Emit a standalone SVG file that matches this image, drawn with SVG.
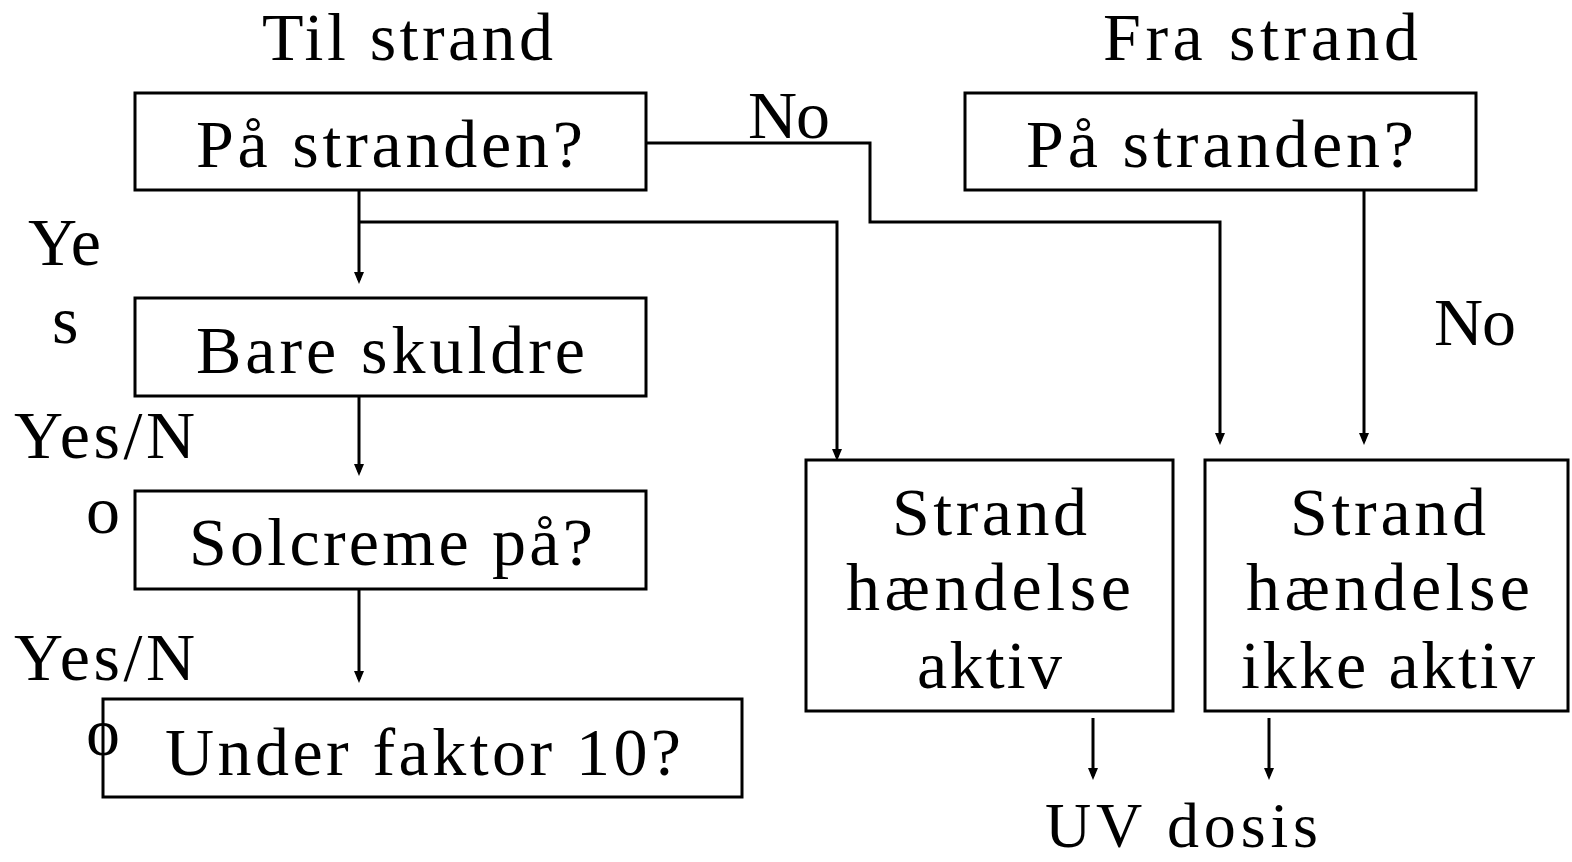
<svg xmlns="http://www.w3.org/2000/svg" width="1572" height="862" viewBox="0 0 1572 862">
<style>
text{font-family:"Liberation Serif","Times New Roman",serif;font-size:68px;fill:#000}
.box{fill:#fff;stroke:#000;stroke-width:3}
.c{fill:none;stroke:#000;stroke-width:3}
.ah{fill:#000}
</style>
<g id="titles">
<text x="262" y="60" textLength="291" lengthAdjust="spacing">Til strand</text>
<text x="1103" y="60" textLength="315" lengthAdjust="spacing">Fra strand</text>
</g>
<g id="connectors">
<path class="c" d="M359,190 V280"/>
<path class="c" d="M359,222 H837 V457"/>
<path class="c" d="M646,143 H870 V222 H1220 V441"/>
<path class="c" d="M1364,190 V441"/>
<path class="c" d="M359,396 V472"/>
<path class="c" d="M359,589 V679"/>
<path class="c" d="M1093,718 V776"/>
<path class="c" d="M1269,718 V776"/>
<path class="ah" d="M354,272 H364 L359,284 Z"/>
<path class="ah" d="M832,449 H842 L837,461 Z"/>
<path class="ah" d="M1215,433 H1225 L1220,445 Z"/>
<path class="ah" d="M1359,433 H1369 L1364,445 Z"/>
<path class="ah" d="M354,464 H364 L359,476 Z"/>
<path class="ah" d="M354,671 H364 L359,683 Z"/>
<path class="ah" d="M1088,768 H1098 L1093,780 Z"/>
<path class="ah" d="M1264,768 H1274 L1269,780 Z"/>
</g>
<g id="node-paa-stranden-1">
<rect class="box" x="135" y="93" width="511" height="97"/>
<text x="196" y="167" textLength="387" lengthAdjust="spacing">På stranden?</text>
</g>
<g id="node-paa-stranden-2">
<rect class="box" x="965" y="93" width="511" height="97"/>
<text x="1026" y="167" textLength="388" lengthAdjust="spacing">På stranden?</text>
</g>
<g id="node-bare-skuldre">
<rect class="box" x="135" y="298" width="511" height="98"/>
<text x="196" y="373" textLength="389" lengthAdjust="spacing">Bare skuldre</text>
</g>
<g id="node-solcreme">
<rect class="box" x="135" y="491" width="511" height="98"/>
<text x="189" y="565" textLength="404" lengthAdjust="spacing">Solcreme på?</text>
</g>
<g id="node-under-faktor">
<rect class="box" x="103" y="699" width="639" height="98"/>
<text x="165" y="775" textLength="516" lengthAdjust="spacing">Under faktor 10?</text>
</g>
<g id="node-aktiv">
<rect class="box" x="806" y="460" width="367" height="251"/>
<text x="892" y="535" textLength="195" lengthAdjust="spacing">Strand</text>
<text x="846" y="610" textLength="285" lengthAdjust="spacing">hændelse</text>
<text x="917" y="688" textLength="145" lengthAdjust="spacing">aktiv</text>
</g>
<g id="node-ikke-aktiv">
<rect class="box" x="1205" y="460" width="363" height="251"/>
<text x="1290" y="535" textLength="196" lengthAdjust="spacing">Strand</text>
<text x="1246" y="610" textLength="284" lengthAdjust="spacing">hændelse</text>
<text x="1241" y="688" textLength="294" lengthAdjust="spacing">ikke aktiv</text>
</g>
<g id="node-uv-dosis">
<text x="1045" y="847" style="font-size:64px" textLength="273" lengthAdjust="spacing">UV dosis</text>
</g>
<g id="labels">
<text x="748" y="138" textLength="82" lengthAdjust="spacing">No</text>
<text x="1434" y="345" textLength="82" lengthAdjust="spacing">No</text>
<text x="28" y="265" textLength="73" lengthAdjust="spacing">Ye</text>
<text x="52" y="343">s</text>
<text x="14" y="458" textLength="181" lengthAdjust="spacing">Yes/N</text>
<text x="86" y="533">o</text>
<text x="14" y="680" textLength="181" lengthAdjust="spacing">Yes/N</text>
<text x="86" y="755">o</text>
</g>
</svg>
